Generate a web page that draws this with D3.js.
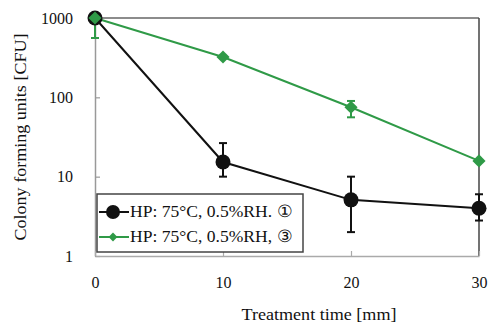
<!DOCTYPE html>
<html lang="en">
<head>
  <meta charset="UTF-8">
  <title>Colony forming units vs treatment time</title>
  <script src="https://d3js.org/d3.v7.min.js"></script>
  <style>
    body { margin: 0; background: #fff; }
    text { font-family: "Liberation Serif", "DejaVu Serif", serif; fill: #111; }
  </style>
</head>
<body>
  <div id="chart"></div>

  <script>
    // time points (x) and the two series with error bar ranges
    const times = [0, 10, 20, 30];
    const seriesA = [1000, 15.3, 5.1, 4.0];      // HP: 75°C, 0.5%RH ①
    const seriesALow = [1000, 10, 2.0, 2.8];
    const seriesAHigh = [1000, 26.5, 10, 6.0];
    const seriesB = [1000, 322, 75, 15.8];       // HP: 75°C, 0.5%RH ③
    const seriesBLow = [560, 322, 56, 15.8];
    const seriesBHigh = [1000, 322, 90, 15.8];
    const yTicks = [1, 10, 100, 1000];
    const xTicks = [0, 10, 20, 30];
    const legendLabels = ["HP: 75°C, 0.5%RH. \u2460", "HP: 75°C, 0.5%RH, \u2462"];

    const width = 500, height = 330;
    const margin = { top: 18, right: 21, bottom: 74, left: 95 };
    const w = width - margin.left - margin.right;
    const h = height - margin.top - margin.bottom;

    const svg = d3.select("#chart")
      .append("svg")
      .attr("width", width)
      .attr("height", height);

    const g = svg.append("g")
      .attr("transform", "translate(" + margin.left + "," + margin.top + ")");

    const x = d3.scaleLinear().domain([0, 30]).range([0, w]);
    const y = d3.scaleLog().domain([1, 1000]).range([h, 0]);

    // frame: top and right borders
    g.append("line").attr("x1", 0).attr("x2", w).attr("y1", 0).attr("y2", 0)
      .attr("stroke", "#666").attr("stroke-width", 1.5);
    g.append("line").attr("x1", w).attr("x2", w).attr("y1", 0).attr("y2", h)
      .attr("stroke", "#444").attr("stroke-width", 1.5);

    // axes
    const yAxis = g.append("g")
      .call(d3.axisLeft(y).tickValues(yTicks).tickFormat(d3.format("d")).tickSize(0).tickPadding(22));
    yAxis.select(".domain").attr("stroke", "#999").attr("stroke-width", 1.5);
    yAxis.selectAll("text").style("font-size", "16px");
    yAxis.selectAll(".tick").append("line").attr("x2", 5).attr("stroke", "#999").attr("stroke-width", 1.2);

    const xAxis = g.append("g")
      .attr("transform", "translate(0," + h + ")")
      .call(d3.axisBottom(x).tickValues(xTicks).tickSize(0).tickPadding(21));
    xAxis.select(".domain").attr("stroke", "#aaa").attr("stroke-width", 1.5);
    xAxis.selectAll("text").style("font-size", "16px");
    xAxis.selectAll(".tick").append("line").attr("y2", -5).attr("stroke", "#aaa").attr("stroke-width", 1.2);

    // axis titles
    g.append("text")
      .attr("x", 224)
      .attr("y", h + 64)
      .attr("text-anchor", "middle")
      .attr("textLength", 155).attr("lengthAdjust", "spacingAndGlyphs")
      .style("font-size", "17.5px")
      .text("Treatment time [mm]");

    g.append("text")
      .attr("transform", "rotate(-90)")
      .attr("x", -(137 - margin.top))
      .attr("y", -margin.left + 26)
      .attr("text-anchor", "middle")
      .attr("textLength", 207).attr("lengthAdjust", "spacingAndGlyphs")
      .style("font-size", "17.5px")
      .text("Colony forming units [CFU]");

    const green = "#2f9a47";
    const line = d3.line().x(d => x(d[0])).y(d => y(d[1]));

    function drawErrors(vals, lo, hi, color) {
      times.forEach((t, i) => {
        if (lo[i] === hi[i]) return;
        const gx = x(t);
        g.append("line").attr("x1", gx).attr("x2", gx).attr("y1", y(lo[i])).attr("y2", y(hi[i]))
          .attr("stroke", color).attr("stroke-width", 2);
        [lo[i], hi[i]].forEach(v => {
          if (v === vals[i]) return;
          g.append("line").attr("x1", gx - 4).attr("x2", gx + 4).attr("y1", y(v)).attr("y2", y(v))
            .attr("stroke", color).attr("stroke-width", 2);
        });
      });
    }

    // series A (black, circles)
    const dataA = times.map((t, i) => [t, seriesA[i]]);
    g.append("path").datum(dataA).attr("d", line)
      .attr("fill", "none").attr("stroke", "#111").attr("stroke-width", 2);
    drawErrors(seriesA, seriesALow, seriesAHigh, "#111");

    // series B (green, diamonds)
    const dataB = times.map((t, i) => [t, seriesB[i]]);
    g.append("path").datum(dataB).attr("d", line)
      .attr("fill", "none").attr("stroke", green).attr("stroke-width", 2);
    drawErrors(seriesB, seriesBLow, seriesBHigh, green);

    g.selectAll(".dotA").data(dataA).enter().append("circle")
      .attr("cx", d => x(d[0])).attr("cy", d => y(d[1])).attr("r", 7.5)
      .attr("fill", "#111");

    const diamond = d3.symbol().type(d3.symbolDiamond2).size(110);
    g.selectAll(".dotB").data(dataB).enter().append("path")
      .attr("d", diamond)
      .attr("transform", d => "translate(" + x(d[0]) + "," + y(d[1]) + ")")
      .attr("fill", green);

    // legend
    const leg = g.append("g").attr("transform", "translate(2," + (h - 62) + ")");
    leg.append("rect").attr("width", 206).attr("height", 58)
      .attr("fill", "#fff").attr("stroke", "#444").attr("stroke-width", 1.5);

    const rows = [
      { label: legendLabels[0], color: "#111", kind: "circle", y: 18 },
      { label: legendLabels[1], color: green, kind: "diamond", y: 43 }
    ];
    rows.forEach(r => {
      leg.append("line").attr("x1", 2).attr("x2", 32).attr("y1", r.y).attr("y2", r.y)
        .attr("stroke", r.color).attr("stroke-width", 2);
      if (r.kind === "circle") {
        leg.append("circle").attr("cx", 16).attr("cy", r.y).attr("r", 7).attr("fill", r.color);
      } else {
        leg.append("path").attr("d", d3.symbol().type(d3.symbolDiamond2).size(50))
          .attr("transform", "translate(16," + r.y + ")").attr("fill", r.color);
      }
      leg.append("text").attr("x", 33).attr("y", r.y + 5)
        .attr("textLength", 162).attr("lengthAdjust", "spacingAndGlyphs")
        .style("font-size", "17px").text(r.label);
    });
  </script>
</body>
</html>
